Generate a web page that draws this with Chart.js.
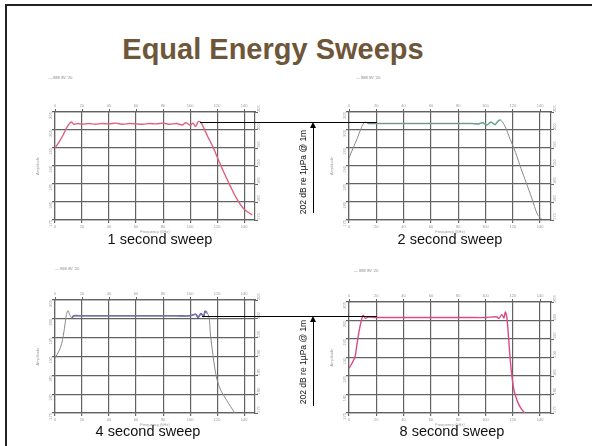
<!DOCTYPE html>
<html>
<head>
<meta charset="utf-8">
<script src="https://cdn.jsdelivr.net/npm/chart.js@4/dist/chart.umd.min.js"></script>
<style>
  body { margin: 0; width: 592px; height: 446px; background: #fff; position: relative; overflow: hidden; font-family: "Liberation Sans", Arial, sans-serif; }
  .frame { position: absolute; left: 5px; top: 4px; width: 600px; height: 460px; border-left: 2px solid #222; border-top: 2px solid #222; }
  .abs { position: absolute; }
  h1 { position: absolute; left: 0; width: 546px; top: 33px; margin: 0; text-align: center; font-size: 29px; font-weight: bold; color: #6e5638; }
  .cap { position: absolute; font-size: 14.5px; color: #111; width: 200px; text-align: center; }
  .lgd { position: absolute; font-size: 4px; color: #888; }
  .lbl { position: absolute; font-size: 8.5px; color: #111; transform: rotate(-90deg); white-space: nowrap; transform-origin: center; }
  .hl { position: absolute; height: 1px; background: #000; }
  .vl { position: absolute; width: 1px; background: #000; }
  .tip { position: absolute; width: 0; height: 0; border-left: 3px solid transparent; border-right: 3px solid transparent; border-bottom: 6px solid #000; }
</style>
</head>
<body>
<div class="frame"></div>
<h1>Equal Energy Sweeps</h1>

<div class="lgd" style="left:48px;top:75px">— 888 8V '20</div>
<div class="lgd" style="left:356px;top:75px">— 888 8V '20</div>
<div class="lgd" style="left:55px;top:266px">— 868 8V '20</div>
<div class="lgd" style="left:354px;top:268px">— 888 8V '20</div>

<canvas id="c1" class="abs" width="235" height="134" style="left:35px;top:100px"></canvas>
<canvas id="c2" class="abs" width="237" height="134" style="left:329px;top:100px"></canvas>
<canvas id="c3" class="abs" width="235" height="139" style="left:35px;top:288px"></canvas>
<canvas id="c4" class="abs" width="237" height="137" style="left:329px;top:290px"></canvas>

<div class="cap" style="left:60px;top:231px">1 second sweep</div>
<div class="cap" style="left:350px;top:231px">2 second sweep</div>
<div class="cap" style="left:48px;top:423px">4 second sweep</div>
<div class="cap" style="left:352px;top:423px">8 second sweep</div>

<!-- 202 dB reference markers -->
<div class="hl" style="left:200px;top:122px;width:177px"></div>
<div class="vl" style="left:313px;top:127px;height:86px"></div>
<div class="tip" style="left:310px;top:122px"></div>
<div class="lbl" style="left:258px;top:167px;width:90px;text-align:center">202 dB re 1µPa @ 1m</div>

<div class="hl" style="left:202px;top:316px;width:175px"></div>
<div class="vl" style="left:313px;top:321px;height:85px"></div>
<div class="tip" style="left:310px;top:316px"></div>
<div class="lbl" style="left:258px;top:357px;width:90px;text-align:center">202 dB re 1µPa @ 1m</div>

<script>
// frequency (kHz) and level (dB)
const freq1 = [0,3,6,9,12,14,17,20,25,30,35,40,45,50,55,60,65,70,75,80,85,90,94,97,100,102,104,106,108,110,113,117,121,125,130,135,140,146];
const level1 = [195,196.6,198.6,200.9,202.2,201.6,201.8,201.6,201.8,201.6,201.8,201.7,201.9,201.6,201.8,201.7,201.6,201.8,201.7,201.9,201.6,201.8,201.4,202,201.3,201.9,201.0,202.3,202.1,200.6,198.2,195.2,191.6,188.2,184.2,180.6,178,176.4];

const freq2 = [0,3,6,9,11.5,14,20,30,40,50,60,70,80,90,95,98,101,104,107,109,111,114.5,118,122,126,130,134,138,141];
const level2 = [192.2,195,197.6,200.6,202.2,201.8,201.8,201.8,201.8,201.8,201.8,201.8,201.8,201.8,201.7,202.0,201.4,202.2,201.5,202.4,202.8,200.9,197.5,193.8,189.3,185.2,181,176.6,175.3];

const freq3 = [0,3,5,7,8.5,9.7,11,12.5,14,20,30,40,50,60,70,80,90,100,104,106,108,110,111,112.5,114,115,116.4,118,120,123,127,130,133];
const level3 = [189.6,191.5,193.5,197.5,201.2,202.2,201.0,200.3,200.8,200.8,200.8,200.8,200.8,200.8,200.8,200.8,200.8,200.8,201.2,200.4,201.4,200.6,202.0,201.6,200.5,196,191.7,187.5,183.7,180.8,178.4,176.7,175];

const freq4 = [0,2,4.4,6,8,10.3,12,14,20,30,40,50,60,70,80,90,100,108,110,112,113.5,114.5,115.5,116.3,118,119.4,121,124,126.5,128.8];
const level4 = [187.1,188.3,190.2,194,198.3,201.4,200.6,200.9,200.8,200.8,200.8,200.8,200.8,200.8,200.8,200.8,200.8,201.0,200.6,201.6,200.7,202.3,201.2,198.3,190,184.8,181,177.6,176,175];

// flat part of the sweep drawn in colour, the rest in grey
const band2 = [14, 111];
const band3 = [12.5, 112.5];

const xTicks = { min: 0, max: 148, step: 20 };
const yTicks = { min: 175, max: 205, step: 5 };

function pts(fs, vs, band) {
    return fs.map((f, i) => ({ x: f, y: (!band || (f >= band[0] && f <= band[1])) ? vs[i] : null }));
}

// keep only the round 20 kHz ticks (axis runs a little past 140)
const roundTicks = s => { s.ticks = s.ticks.filter(t => t.value % xTicks.step === 0); };

function drawPanel(id, fs, vs, color, band) {
    const datasets = [];
    if (band) {
        datasets.push({ data: pts(fs, vs), borderColor: '#8a8a8a', borderWidth: 1, pointRadius: 0, tension: 0.3 });
        datasets.push({ data: pts(fs, vs, band), borderColor: color, borderWidth: 1.6, pointRadius: 0, tension: 0.3, spanGaps: false });
    } else {
        datasets.push({ data: pts(fs, vs), borderColor: color, borderWidth: 1.4, pointRadius: 0, tension: 0.3 });
    }
    const tickFont = { size: 4, family: 'Liberation Sans' };
    const gridCol = '#636363';
    new Chart(document.getElementById(id), {
        type: 'line',
        data: { datasets },
        options: {
            responsive: false,
            animation: false,
            layout: { padding: 0 },
            plugins: { legend: { display: false }, tooltip: { enabled: false } },
            scales: {
                x: {
                    type: 'linear', position: 'bottom', min: xTicks.min, max: xTicks.max,
                    ticks: { stepSize: xTicks.step, color: '#999', font: tickFont, padding: 1, maxRotation: 0 },
                    grid: { color: gridCol, lineWidth: 1.2, tickLength: 3 },
                    border: { color: gridCol, width: 1.2 },
                    title: { display: true, text: 'Frequency (kHz)', color: '#999', font: tickFont, padding: 0 },
                    afterBuildTicks: roundTicks,
                    afterFit: s => { s.height = 14; }
                },
                xTop: {
                    type: 'linear', position: 'top', min: xTicks.min, max: xTicks.max,
                    ticks: { stepSize: xTicks.step, color: '#999', font: tickFont, padding: 1, maxRotation: 0 },
                    grid: { drawOnChartArea: false, color: gridCol, tickLength: 3 },
                    border: { color: gridCol, width: 1.2 },
                    afterBuildTicks: roundTicks,
                    afterFit: s => { s.height = 12; }
                },
                y: {
                    position: 'left', min: yTicks.min, max: yTicks.max,
                    ticks: { stepSize: yTicks.step, color: '#999', font: tickFont, padding: 1, minRotation: 90, maxRotation: 90 },
                    grid: { color: gridCol, lineWidth: 1.2, tickLength: 3 },
                    border: { color: gridCol, width: 1.2 },
                    title: { display: true, text: 'Amplitude', color: '#999', font: tickFont, padding: 0 },
                    afterFit: s => { s.width = 20; }
                },
                yRight: {
                    position: 'right', min: yTicks.min, max: yTicks.max,
                    ticks: { stepSize: yTicks.step, color: '#999', font: tickFont, padding: 1, minRotation: 90, maxRotation: 90 },
                    grid: { drawOnChartArea: false, color: gridCol, tickLength: 3 },
                    border: { color: gridCol, width: 1.2 },
                    afterFit: s => { s.width = 15; }
                }
            }
        }
    });
}

drawPanel('c1', freq1, level1, '#e0607e');
drawPanel('c2', freq2, level2, '#5cc8a4', band2);
drawPanel('c3', freq3, level3, '#4a4ac0', band3);
drawPanel('c4', freq4, level4, '#dc4a88');
</script>
</body>
</html>
